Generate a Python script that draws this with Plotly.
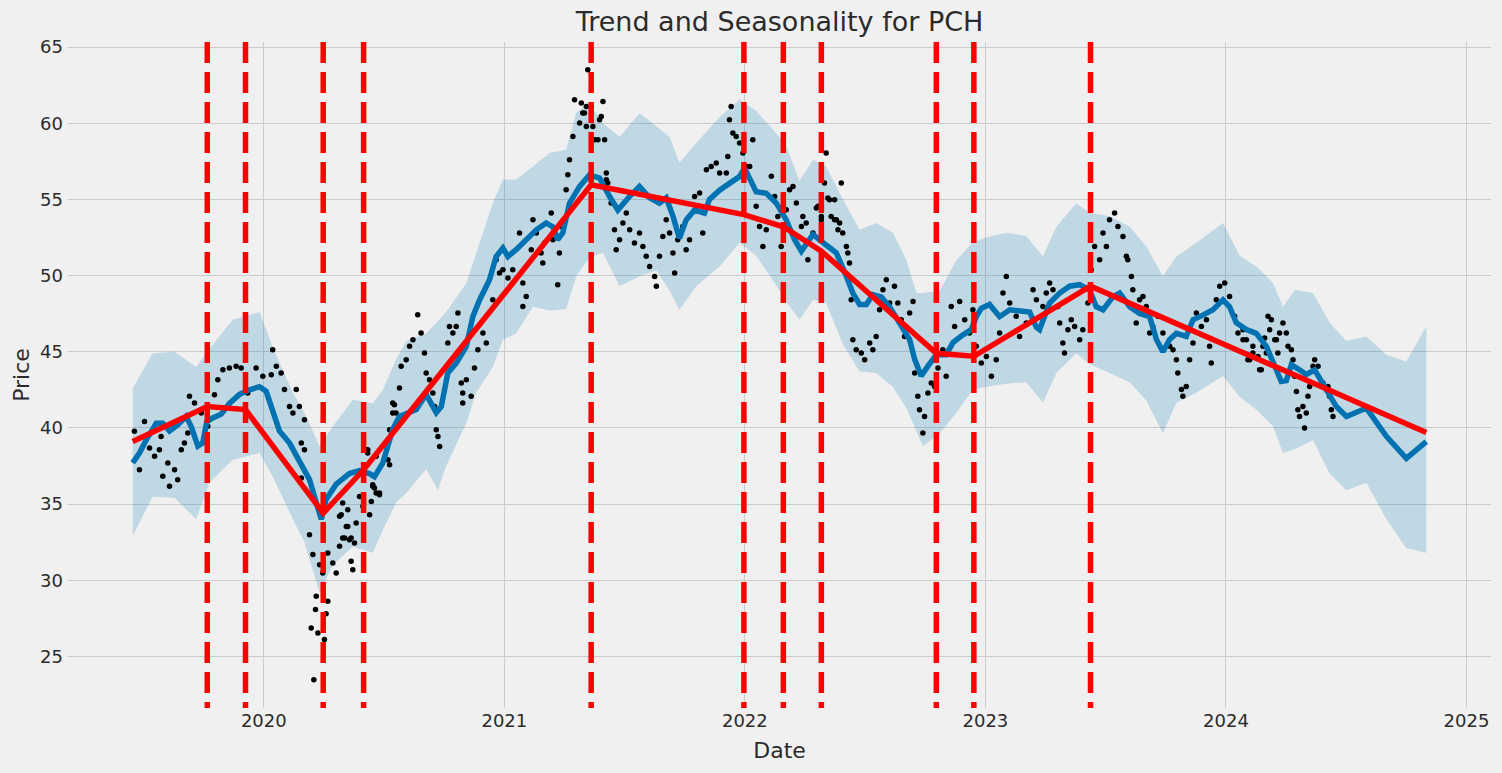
import pandas as pd
import plotly.graph_objects as go

# ---------------- data ----------------
# x values are decimal years, converted to dates below
changepoint_years = [2019.765, 2019.924, 2020.247, 2020.415, 2021.361, 2021.996,
                     2022.160, 2022.318, 2022.796, 2022.952, 2023.437]

trend_years = [2019.455, 2019.765, 2019.924, 2020.247, 2020.415, 2021.361, 2021.996,
               2022.160, 2022.318, 2022.796, 2022.952, 2023.437, 2024.833]
trend_values = [39.1, 41.4, 41.2, 34.4, 37.25, 55.95, 54.0, 53.2, 51.6, 44.9, 44.7, 49.3, 39.7]

yhat_years = [2019.455, 2019.483, 2019.511, 2019.553, 2019.580, 2019.608, 2019.642, 2019.677,
              2019.698, 2019.726, 2019.746, 2019.763, 2019.788, 2019.823, 2019.857, 2019.899,
              2019.941, 2019.982, 2020.010, 2020.037, 2020.065, 2020.107, 2020.148, 2020.190,
              2020.218, 2020.239, 2020.259, 2020.301, 2020.356, 2020.398, 2020.439, 2020.460,
              2020.495, 2020.536, 2020.564, 2020.634, 2020.675, 2020.717, 2020.738, 2020.765,
              2020.800, 2020.842, 2020.869, 2020.897, 2020.938, 2020.966, 2020.994, 2021.015,
              2021.049, 2021.091, 2021.133, 2021.174, 2021.202, 2021.222, 2021.243, 2021.271,
              2021.313, 2021.354, 2021.396, 2021.437, 2021.472, 2021.521, 2021.562, 2021.604,
              2021.645, 2021.673, 2021.701, 2021.728, 2021.756, 2021.791, 2021.832, 2021.853,
              2021.895, 2021.936, 2021.978, 2021.999, 2022.020, 2022.047, 2022.089, 2022.131,
              2022.172, 2022.207, 2022.235, 2022.283, 2022.338, 2022.380, 2022.422, 2022.449,
              2022.477, 2022.505, 2022.532, 2022.567, 2022.602, 2022.643, 2022.685, 2022.706,
              2022.733, 2022.761, 2022.796, 2022.837, 2022.865, 2022.906, 2022.941, 2022.962,
              2022.983, 2023.017, 2023.059, 2023.101, 2023.142, 2023.184, 2023.212, 2023.225,
              2023.267, 2023.309, 2023.350, 2023.392, 2023.433, 2023.461, 2023.489, 2023.530,
              2023.558, 2023.600, 2023.641, 2023.683, 2023.711, 2023.738, 2023.766, 2023.794,
              2023.835, 2023.863, 2023.904, 2023.946, 2023.988, 2024.015, 2024.043, 2024.085,
              2024.126, 2024.168, 2024.210, 2024.230, 2024.251, 2024.272, 2024.307, 2024.334,
              2024.369, 2024.397, 2024.431, 2024.459, 2024.501, 2024.584, 2024.667, 2024.750,
              2024.833]
yhat_values = [37.7, 38.35, 39.2, 40.3, 40.3, 39.8, 40.2, 40.75,
               40.1, 38.8, 39.0, 40.4, 40.65, 40.9, 41.6, 42.2,
               42.5, 42.7, 42.4, 41.0, 39.8, 39.0, 37.9, 36.6,
               35.1, 34.0, 35.3, 36.3, 37.0, 37.2, 37.0, 36.8,
               37.7, 39.9, 40.75, 41.2, 42.2, 41.0, 41.4, 43.6,
               44.25, 45.35, 47.3, 48.4, 49.7, 51.25, 51.8, 51.25,
               51.7, 52.35, 53.0, 53.45, 53.2, 52.35, 52.8, 54.75,
               55.85, 56.6, 56.4, 55.2, 54.3, 55.2, 55.85, 55.1,
               54.75, 55.1, 53.9, 52.45, 53.65, 54.3, 54.1, 55.0,
               55.6, 56.05, 56.5, 57.05, 56.3, 55.5, 55.4, 54.75,
               53.65, 52.35, 51.6, 52.7, 52.0, 51.5, 49.95, 48.85,
               48.1, 48.1, 48.75, 48.6, 47.95, 46.9, 45.8, 44.5,
               43.4, 44.05, 44.8, 44.8, 45.6, 46.1, 46.45, 47.3,
               47.85, 48.1, 47.3, 47.75, 47.65, 47.6, 46.6, 46.45,
               48.2, 48.85, 49.3, 49.4, 49.05, 47.95, 47.75, 48.6,
               48.85, 47.95, 47.5, 47.3, 45.8, 45.0, 45.8, 46.2,
               46.0, 47.1, 47.4, 47.75, 48.4, 47.95, 46.9, 46.45,
               46.2, 45.35, 43.8, 43.05, 43.1, 44.15, 43.8, 43.5,
               43.8, 43.05, 42.05, 41.4, 40.75, 41.3, 39.45, 38.0,
               39.1]

band_years = [2019.455, 2019.538, 2019.629, 2019.719, 2019.774, 2019.871, 2019.982, 2020.037,
              2020.121, 2020.169, 2020.232, 2020.287, 2020.370, 2020.453, 2020.495, 2020.550,
              2020.592, 2020.675, 2020.724, 2020.758, 2020.842, 2020.883, 2020.952, 2020.994,
              2021.049, 2021.119, 2021.188, 2021.257, 2021.299, 2021.354, 2021.410, 2021.479,
              2021.562, 2021.632, 2021.687, 2021.728, 2021.798, 2021.895, 2021.978, 2022.047,
              2022.116, 2022.172, 2022.227, 2022.283, 2022.338, 2022.407, 2022.477, 2022.546,
              2022.615, 2022.671, 2022.713, 2022.740, 2022.810, 2022.879, 2022.948, 2023.004,
              2023.087, 2023.170, 2023.239, 2023.295, 2023.378, 2023.433, 2023.516, 2023.600,
              2023.669, 2023.738, 2023.794, 2023.877, 2023.988, 2024.057, 2024.126, 2024.196,
              2024.237, 2024.286, 2024.362, 2024.431, 2024.501, 2024.584, 2024.667, 2024.750,
              2024.833]
band_upper = [42.6, 44.9, 45.0, 44.0, 45.2, 47.1, 47.6, 45.3,
              42.3, 41.0, 38.8, 40.1, 41.85, 41.6, 42.5, 44.5,
              45.7, 46.2, 47.0, 47.6, 49.5, 51.5, 54.75, 56.3,
              56.3, 57.15, 58.05, 58.25, 60.7, 61.3, 60.0, 59.1,
              60.65, 59.8, 59.1, 57.4, 58.7, 60.4, 61.55, 60.8,
              59.6, 58.5, 56.2, 57.6, 57.15, 55.0, 53.0, 53.45,
              52.8, 51.05, 48.85, 48.85, 49.0, 51.0, 52.2, 52.5,
              52.8, 52.6, 51.25, 53.2, 54.75, 54.1, 53.9, 53.2,
              51.9, 49.95, 51.25, 52.15, 53.45, 51.3, 50.6, 49.5,
              47.95, 49.05, 48.85, 46.9, 45.7, 46.0, 44.8, 44.35,
              46.65]
band_lower = [32.9, 35.5, 35.4, 34.0, 36.4, 37.9, 38.35, 36.8,
              34.0, 32.5, 29.2, 31.0, 32.2, 31.8, 33.3, 35.1,
              35.7, 37.3, 35.9, 37.5, 40.3, 42.3, 44.0, 45.8,
              46.2, 47.95, 47.7, 47.8, 49.95, 51.2, 51.5, 49.3,
              49.95, 50.35, 49.0, 47.75, 49.3, 50.6, 52.15, 51.3,
              49.7, 48.3, 47.1, 48.4, 48.2, 45.5, 43.7, 43.6,
              42.7, 41.3, 39.8, 38.8, 39.65, 41.0, 42.5, 42.7,
              42.9, 43.0, 41.65, 43.6, 44.9, 44.2, 43.6, 43.0,
              41.8, 39.65, 41.65, 42.3, 43.4, 42.05, 41.2, 40.1,
              38.35, 38.6, 39.2, 37.0, 35.9, 36.4, 34.0, 32.1,
              31.8]

obs_years = [
    2019.462, 2019.483, 2019.504, 2019.525, 2019.546, 2019.566, 2019.573, 2019.580, 2019.601,
    2019.608, 2019.629, 2019.642, 2019.657, 2019.670, 2019.684, 2019.691, 2019.712, 2019.740,
    2019.767, 2019.795, 2019.809, 2019.830, 2019.857, 2019.885, 2019.906, 2019.933, 2019.968,
    2019.996, 2020.031, 2020.037, 2020.052, 2020.072, 2020.086, 2020.107, 2020.121, 2020.135,
    2020.148, 2020.169, 2020.156, 2020.169, 2020.156, 2020.190, 2020.204, 2020.218, 2020.232,
    2020.245, 2020.197, 2020.225, 2020.252, 2020.266, 2020.287, 2020.301, 2020.315, 2020.322,
    2020.328, 2020.349, 2020.356, 2020.370, 2020.384, 2020.398, 2020.412, 2020.432, 2020.453,
    2020.467, 2020.215, 2020.208, 2020.266, 2020.259,
    2020.328, 2020.349, 2020.315, 2020.343, 2020.336, 2020.363, 2020.377, 2020.363, 2020.405,
    2020.447, 2020.440, 2020.460, 2020.481, 2020.432, 2020.467, 2020.516, 2020.523, 2020.523,
    2020.536, 2020.543, 2020.564, 2020.717, 2020.724, 2020.731, 2020.710, 2020.703, 2020.827,
    2020.827, 2020.862,
    2020.426, 2020.453, 2020.481, 2020.536, 2020.550, 2020.571, 2020.592, 2020.606, 2020.620,
    2020.640, 2020.654, 2020.668, 2020.675, 2020.689, 2020.765, 2020.772, 2020.786, 2020.807,
    2020.800, 2020.821, 2020.842, 2020.876, 2020.890, 2020.911, 2020.925, 2020.952, 2020.966,
    2020.980, 2020.994, 2021.015, 2021.035, 2021.063, 2021.077, 2021.077, 2021.091, 2021.112,
    2021.119, 2021.133, 2021.153, 2021.160, 2021.167, 2021.195, 2021.202, 2021.222, 2021.229,
    2021.237, 2021.257, 2021.264, 2021.271, 2021.285, 2021.292, 2021.313, 2021.326, 2021.341,
    2021.347, 2021.368, 2021.389, 2021.396, 2021.410, 2021.424,
    2021.320, 2021.333, 2021.341, 2021.361, 2021.375, 2021.403, 2021.417, 2021.424, 2021.430,
    2021.444, 2021.458, 2021.465, 2021.479, 2021.493, 2021.507, 2021.521, 2021.541, 2021.562,
    2021.576, 2021.590, 2021.604, 2021.625, 2021.632, 2021.645, 2021.659, 2021.673, 2021.687,
    2021.701, 2021.708, 2021.721, 2021.742, 2021.756, 2021.770, 2021.791, 2021.812, 2021.825,
    2021.840, 2021.860, 2021.881, 2021.895, 2021.923, 2021.929, 2021.936, 2021.943, 2021.950,
    2021.964, 2021.978, 2021.992, 2022.006, 2022.020, 2022.033, 2022.047, 2022.061, 2022.075,
    2022.089, 2022.110, 2022.124, 2022.137, 2022.151, 2022.172, 2022.186, 2022.200, 2022.214,
    2022.235, 2022.255, 2022.262, 2022.283, 2022.304, 2022.318, 2022.331, 2022.338, 2022.352,
    2022.373, 2022.387,
    2022.241, 2022.297, 2022.318, 2022.345, 2022.359, 2022.373, 2022.380, 2022.394, 2022.401,
    2022.407, 2022.422, 2022.428, 2022.435, 2022.442, 2022.449, 2022.463, 2022.484, 2022.498,
    2022.519, 2022.532, 2022.546, 2022.560, 2022.574, 2022.588, 2022.602, 2022.622, 2022.636,
    2022.650, 2022.664, 2022.685, 2022.699, 2022.706, 2022.719, 2022.726, 2022.740, 2022.747,
    2022.761, 2022.775, 2022.789, 2022.803, 2022.823, 2022.837, 2022.858, 2022.872, 2022.893,
    2022.914, 2022.934, 2022.948, 2022.962, 2022.983, 2023.004, 2023.025, 2023.045, 2023.059,
    2023.073, 2023.087, 2023.101, 2023.128, 2023.142, 2023.170, 2023.198,
    2023.212, 2023.239, 2023.253, 2023.267, 2023.281, 2023.301, 2023.309, 2023.322, 2023.329,
    2023.343, 2023.357, 2023.371, 2023.392, 2023.405, 2023.426, 2023.440, 2023.454, 2023.475,
    2023.489, 2023.503, 2023.516, 2023.537, 2023.551, 2023.572, 2023.586, 2023.592, 2023.607,
    2023.613, 2023.627, 2023.641, 2023.655, 2023.669, 2023.683, 2023.696, 2023.717, 2023.738,
    2023.766, 2023.780, 2023.794, 2023.800, 2023.815, 2023.821, 2023.835, 2023.849, 2023.863,
    2023.877, 2023.898, 2023.919, 2023.932, 2023.939, 2023.960, 2023.974, 2023.995, 2024.015,
    2024.036, 2024.050, 2024.071, 2024.091, 2024.112, 2024.140, 2024.154, 2024.175, 2024.182,
    2024.210,
    2024.071, 2024.085, 2024.099, 2024.112, 2024.133, 2024.147, 2024.161, 2024.168, 2024.189,
    2024.203, 2024.216, 2024.223, 2024.237, 2024.251, 2024.258, 2024.272, 2024.279, 2024.286,
    2024.293, 2024.299, 2024.306, 2024.320, 2024.327, 2024.334, 2024.341, 2024.348, 2024.362,
    2024.369, 2024.383, 2024.403, 2024.424, 2024.431, 2024.438, 2024.445]
obs_values = [
    39.77, 37.25, 40.42, 38.68, 38.13, 38.57, 39.44, 36.82, 37.69,
    36.16, 37.25, 36.60, 38.57, 39.01, 39.66, 42.07, 41.63, 40.98,
    40.10, 42.18, 43.16, 43.82, 43.93, 44.04, 43.93, 42.29, 43.93,
    43.38, 43.49, 45.13, 44.04, 43.60, 42.51, 41.41, 40.98, 42.51,
    41.41, 40.54, 39.01, 38.57, 36.71, 32.99, 31.68, 28.94, 31.02,
    30.47, 26.86, 26.54, 26.10, 31.79, 31.13, 30.47, 32.22, 34.30,
    32.77, 33.53, 32.66, 30.69, 33.76, 35.50, 34.85, 38.35, 36.27,
    35.73, 28.07, 23.47, 28.61, 27.80,
    35.07, 34.63, 34.19, 33.53, 32.77, 32.77, 32.44, 31.24, 35.50,
    35.17, 34.30, 36.05, 35.61, 38.57, 38.13, 37.91, 37.58, 39.88,
    40.98, 41.52, 42.62, 39.88, 39.44, 38.78, 41.41, 42.29, 42.29,
    41.63, 42.07,
    38.57, 36.16, 35.73, 41.63, 40.98, 44.04, 44.47, 45.35, 45.79,
    47.43, 46.23, 44.91, 43.60, 43.16, 45.57, 46.66, 46.23, 47.54,
    46.66, 42.95, 43.16, 43.93, 45.13, 46.23, 45.57, 48.41, 51.04,
    50.17, 50.38, 49.84, 50.38, 52.79, 49.51, 47.97, 48.63, 51.69,
    53.66, 52.79, 51.48, 50.82, 52.13, 54.10, 52.35, 49.40, 51.48,
    53.22, 55.63, 56.62, 57.60, 59.13, 61.54, 60.01, 60.67, 61.10,
    63.51, 59.79, 58.92, 60.23, 61.43, 56.29,
    61.32, 60.67, 59.79, 61.10, 58.92, 60.44, 58.92, 56.73, 56.07,
    54.76, 53.01, 51.69, 52.35, 53.45, 54.10, 53.01, 52.13, 52.79,
    51.91, 51.26, 50.60, 49.94, 49.29, 51.26, 52.57, 53.66, 52.79,
    51.48, 50.17, 52.35, 53.22, 51.69, 52.35, 55.19, 55.42, 52.79,
    56.95, 57.16, 57.39, 56.73, 56.73, 57.82, 60.23, 61.10, 59.35,
    59.13, 58.70, 58.04, 57.16, 57.16, 58.92, 54.54, 53.22, 51.91,
    53.01, 56.51, 55.19, 53.88, 51.91, 54.32, 55.63, 55.85, 54.76,
    53.22, 53.45, 51.04, 52.79, 54.54, 53.66, 56.07, 58.04, 54.98,
    53.66, 53.01,
    53.88, 54.43, 53.88, 55.09, 53.88, 54.98, 53.66, 53.45, 56.07,
    52.79, 51.91, 51.48, 50.82, 48.41, 45.79, 45.13, 44.91, 44.47,
    45.57, 45.13, 46.00, 47.76, 49.07, 49.73, 48.20, 49.29, 48.20,
    47.10, 46.00, 47.54, 48.30, 43.60, 42.07, 41.19, 39.66, 40.75,
    42.29, 42.95, 42.72, 43.93, 45.13, 43.38, 47.97, 46.66, 48.30,
    47.10, 46.23, 47.76, 45.35, 44.26, 44.69, 43.38, 44.47, 46.23,
    48.85, 49.94, 48.20, 47.32, 46.00, 46.88, 49.07,
    48.41, 47.97, 48.85, 49.51, 49.07, 47.97, 46.88, 45.57, 44.91,
    46.44, 47.10, 46.66, 45.79, 46.44, 48.20, 50.38, 51.91, 51.04,
    52.79, 51.91, 53.66, 54.10, 53.22, 52.57, 51.26, 51.04, 49.94,
    49.07, 46.88, 48.41, 48.63, 47.97, 46.23, 46.66, 47.32, 46.23,
    45.35, 45.13, 44.47, 43.60, 42.51, 42.07, 42.72, 44.47, 45.57,
    47.54, 46.66, 47.10, 45.35, 44.26, 48.41, 49.29, 49.51, 48.63,
    47.32, 46.23, 45.79, 44.47, 44.91, 43.82, 45.35, 47.32, 46.44,
    45.79,
    46.44, 45.79, 44.47, 45.35, 44.69, 43.82, 45.90, 44.91, 47.10,
    45.79, 44.91, 46.23, 46.88, 46.23, 45.35, 45.13, 44.47, 43.38,
    42.39, 41.19, 40.75, 41.41, 39.99, 40.98, 42.07, 42.72, 44.04,
    44.47, 44.04, 42.95, 42.72, 42.07, 41.19, 40.75]

x_tick_years = [2020, 2021, 2022, 2023, 2024, 2025]
y_tick_values = [25, 30, 35, 40, 45, 50, 55, 60, 65]
x_range_years = [2019.186, 2025.102]
y_range = [21.61, 65.33]

# ---------------- helpers ----------------
BASE = pd.Timestamp("2020-01-01")


def to_dates(years):
    return [BASE + pd.Timedelta(days=(y - 2020.0) * 365.25) for y in years]


FONT = "DejaVu Sans, Verdana, sans-serif"
TXT = "#2b2b2b"
BLUE = "#0072B2"

fig = go.Figure()

# uncertainty band
fig.add_trace(go.Scatter(x=to_dates(band_years), y=band_upper, mode="lines",
                         line=dict(width=0, color=BLUE), showlegend=False, hoverinfo="skip"))
fig.add_trace(go.Scatter(x=to_dates(band_years), y=band_lower, mode="lines",
                         line=dict(width=0, color=BLUE), fill="tonexty",
                         fillcolor="rgba(0,114,178,0.2)", showlegend=False, hoverinfo="skip"))

# observations
fig.add_trace(go.Scatter(x=to_dates(obs_years), y=obs_values, mode="markers",
                         marker=dict(color="black", size=5.5, line=dict(width=0)),
                         showlegend=False))

# forecast
fig.add_trace(go.Scatter(x=to_dates(yhat_years), y=yhat_values, mode="lines",
                         line=dict(color=BLUE, width=5.5), showlegend=False))

# trend
fig.add_trace(go.Scatter(x=to_dates(trend_years), y=trend_values, mode="lines",
                         line=dict(color="#ff0000", width=5.5), showlegend=False))

# changepoints
for cp in changepoint_years:
    d = to_dates([cp, cp])
    fig.add_trace(go.Scatter(x=d, y=[y_range[1], y_range[0]], mode="lines",
                             line=dict(color="#ff0000", width=5.5, dash="21px,9px"),
                             showlegend=False, hoverinfo="skip"))

fig.update_layout(
    width=1502, height=773,
    paper_bgcolor="#f0f0f0", plot_bgcolor="#f0f0f0",
    margin=dict(l=68, r=11, t=42, b=65, autoexpand=False),
    font=dict(family=FONT, color=TXT, size=18),
    title=dict(text="Trend and Seasonality for PCH", x=0.5, xref="paper",
               y=1 - 22 / 773, yref="container", yanchor="middle", xanchor="center",
               font=dict(size=27, family=FONT, color=TXT)),
    showlegend=False,
)

fig.update_xaxes(
    range=to_dates(x_range_years),
    tickvals=to_dates(x_tick_years), ticktext=[str(y) for y in x_tick_years],
    showgrid=True, gridcolor="#cbcbcb", gridwidth=1,
    zeroline=False, showline=False, ticks="",
    tickfont=dict(size=18, family=FONT, color=TXT),
    title=dict(text="Date", font=dict(size=22, family=FONT, color=TXT), standoff=12),
    automargin=False,
)
fig.update_yaxes(
    range=y_range, tickvals=y_tick_values,
    showgrid=True, gridcolor="#cbcbcb", gridwidth=1,
    zeroline=False, showline=False, ticks="",
    tickfont=dict(size=18, family=FONT, color=TXT),
    ticklabelstandoff=4,
    title=dict(text="Price", font=dict(size=22, family=FONT, color=TXT), standoff=4),
    automargin=False,
)

fig.write_html(
    "out.html",
    config={"displayModeBar": False},
    post_script="document.body.style.margin='0';document.body.style.overflow='hidden';"
                "document.body.style.background='#f0f0f0';",
)
